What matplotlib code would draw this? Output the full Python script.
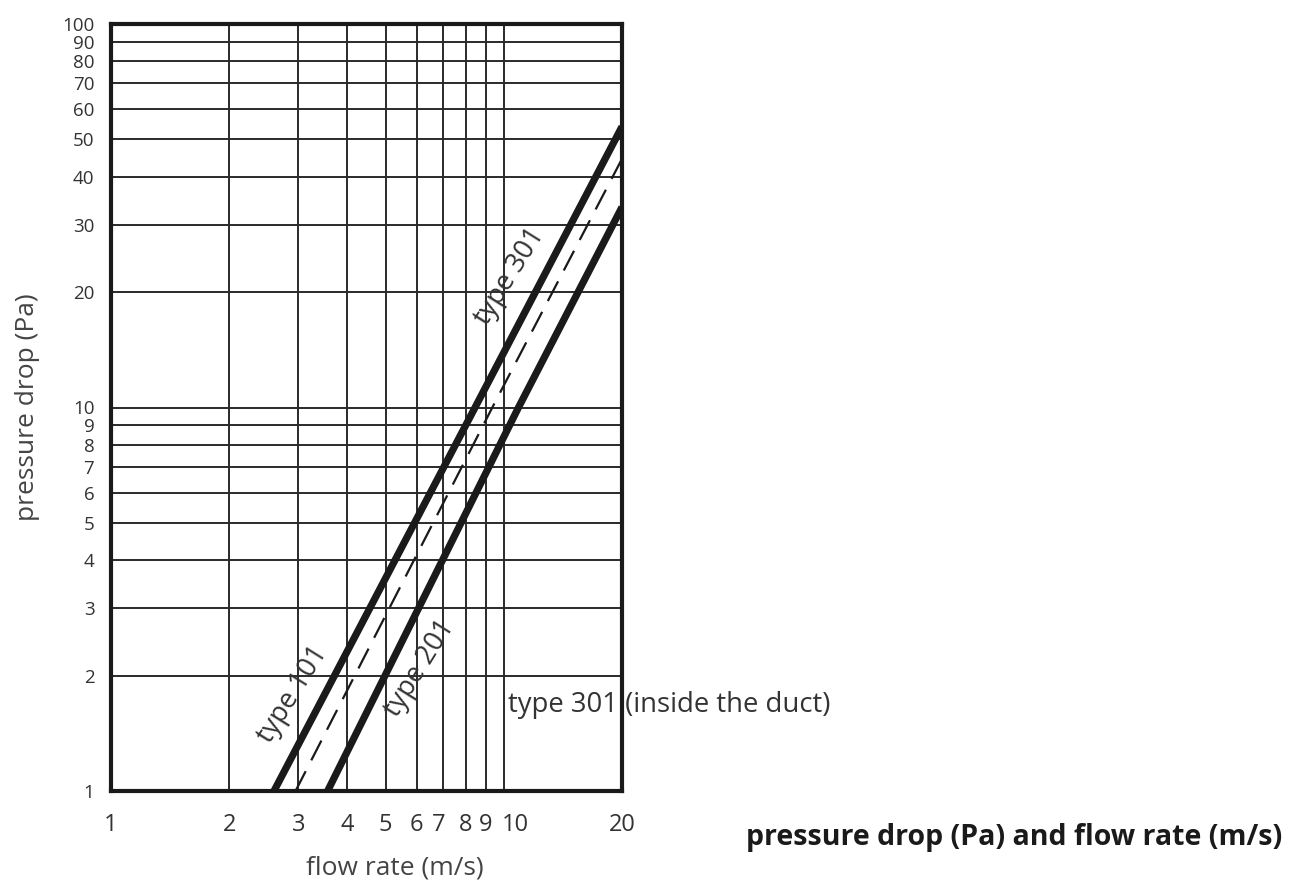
import matplotlib.pyplot as plt
from matplotlib.transforms import ScaledTranslation

# flow rate (m/s) vs pressure drop (Pa)
flow_101 = [2.6, 8.45, 20]
drop_101 = [1, 10, 54]
flow_201 = [3.56, 10.9, 20]
drop_201 = [1, 10, 33.3]
flow_301 = [2.95, 9.35, 20]
drop_301 = [1, 10, 44.5]

x_ticks = [1, 2, 3, 4, 5, 6, 7, 8, 9, 10, 20]
y_ticks = [1, 2, 3, 4, 5, 6, 7, 8, 9, 10, 20, 30, 40, 50, 60, 70, 80, 90, 100]

plt.rcParams['font.family'] = ['Open Sans', 'DejaVu Sans']
ink = '#1a1a1a'
txt = '#333333'

fig = plt.figure(figsize=(12.98, 8.83), dpi=100)
ax = fig.add_axes([111 / 1298, 1 - 791 / 883, 511 / 1298, 767 / 883])
ax.set_xscale('log')
ax.set_yscale('log')
ax.set_xlim(1, 20)
ax.set_ylim(1, 100)

ax.set_xticks(x_ticks)
ax.set_xticklabels([str(v) for v in x_ticks])
ax.set_yticks(y_ticks)
ax.set_yticklabels([str(v) for v in y_ticks])
ax.minorticks_off()
ax.tick_params(axis='x', length=0, pad=16, labelsize=17, labelcolor=txt)
ax.tick_params(axis='y', length=0, pad=12, labelsize=13.5, labelcolor=txt)
# nudge a few crowded labels like the original
for lab in ax.get_xticklabels():
    if lab.get_text() == '10':
        lab.set_transform(lab.get_transform() + ScaledTranslation(12 / 100, 0, fig.dpi_scale_trans))
    if lab.get_text() == '7':
        lab.set_transform(lab.get_transform() + ScaledTranslation(-4 / 100, 0, fig.dpi_scale_trans))
ax.grid(True, which='major', color='#2a2a2a', linewidth=1.4)
ax.set_axisbelow(True)
for s in ax.spines.values():
    s.set_linewidth(3)
    s.set_color(ink)

ax.plot(flow_101, drop_101, color=ink, linewidth=5.2, solid_capstyle='butt')
ax.plot(flow_201, drop_201, color=ink, linewidth=5.2, solid_capstyle='butt')
ax.plot(flow_301, drop_301, color=ink, linewidth=1.6, dashes=(10, 5.5))

ax.text(2.906, 1.78, 'type 101', rotation=58, ha='center', va='center',
        fontsize=19.5, color=txt)
ax.text(6.12, 2.09, 'type 201', rotation=58, ha='center', va='center',
        fontsize=19.5, color=txt)
ax.text(10.37, 21.9, 'type 301', rotation=58, ha='center', va='center',
        fontsize=19.5, color=txt)
ax.text(10.25, 1.676, 'type 301 (inside the duct)', ha='left', va='center',
        fontsize=19.8, color=txt, clip_on=False)

fig.text(28 / 1298, 1 - 407 / 883, 'pressure drop (Pa)', rotation=90,
         ha='center', va='center', fontsize=19, color='#444444')
fig.text(395 / 1298, 1 - 868 / 883, 'flow rate (m/s)', ha='center', va='center',
         fontsize=19, color='#444444')
fig.text(1282 / 1298, 1 - 838 / 883, 'pressure drop (Pa) and flow rate (m/s)',
         ha='right', va='center', fontsize=20.5, fontweight='bold', color=ink)

fig.savefig('out.png', dpi=100)
